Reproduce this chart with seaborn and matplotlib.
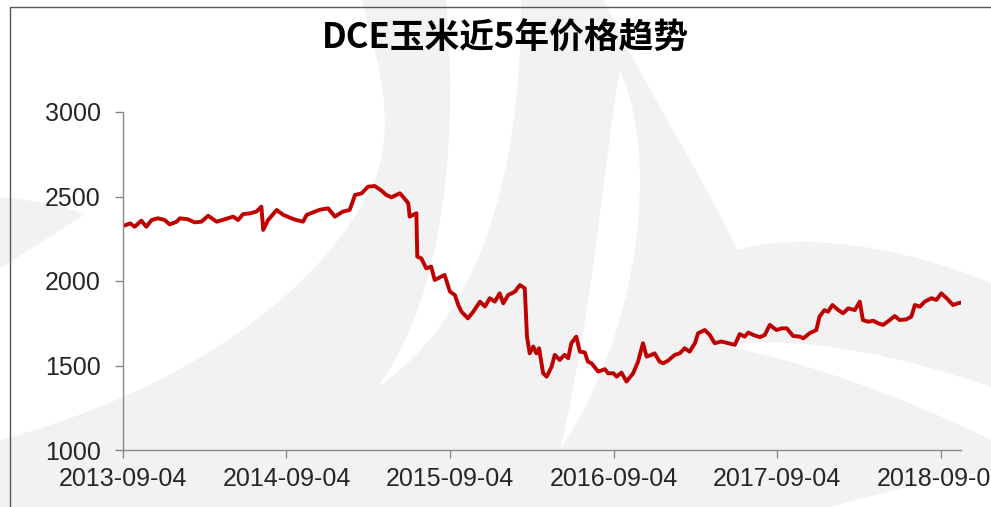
import matplotlib
matplotlib.use('Agg')
import matplotlib.pyplot as plt
from matplotlib.path import Path
from matplotlib.patches import PathPatch
from matplotlib.lines import Line2D
import pandas as pd
import seaborn as sns

# DCE corn price
dates = [
    '2013-09-04', '2013-09-20', '2013-09-30', '2013-10-15', '2013-10-26', '2013-11-07',
    '2013-11-21', '2013-12-06', '2013-12-17', '2014-01-02', '2014-01-09', '2014-01-27',
    '2014-02-11', '2014-02-26', '2014-03-13', '2014-04-01', '2014-04-19', '2014-05-08',
    '2014-05-19', '2014-05-30', '2014-06-14', '2014-06-29', '2014-07-10', '2014-07-14',
    '2014-07-25', '2014-08-13', '2014-08-28', '2014-09-15', '2014-09-26', '2014-10-11',
    '2014-10-19', '2014-11-03', '2014-11-18', '2014-12-06', '2014-12-21', '2015-01-08',
    '2015-01-23', '2015-02-04', '2015-02-19', '2015-03-05', '2015-03-20', '2015-04-04',
    '2015-04-15', '2015-04-26', '2015-05-15', '2015-05-22', '2015-06-03', '2015-06-06',
    '2015-06-21', '2015-06-23', '2015-07-02', '2015-07-13', '2015-07-24', '2015-08-01',
    '2015-08-16', '2015-08-23', '2015-09-04', '2015-09-15', '2015-09-23', '2015-09-30',
    '2015-10-14', '2015-10-26', '2015-11-10', '2015-11-21', '2015-12-02', '2015-12-13',
    '2015-12-24', '2016-01-01', '2016-01-12', '2016-01-27', '2016-02-07', '2016-02-18',
    '2016-02-23', '2016-02-29', '2016-03-08', '2016-03-15', '2016-03-21', '2016-03-30',
    '2016-04-07', '2016-04-18', '2016-04-25', '2016-05-06', '2016-05-17', '2016-05-25',
    '2016-06-01', '2016-06-12', '2016-06-20', '2016-07-01', '2016-07-08', '2016-07-16',
    '2016-07-31', '2016-08-15', '2016-08-22', '2016-09-03', '2016-09-10', '2016-09-21',
    '2016-10-02', '2016-10-17', '2016-10-28', '2016-11-08', '2016-11-16', '2016-11-27',
    '2016-12-04', '2016-12-15', '2016-12-23', '2017-01-03', '2017-01-18', '2017-01-29',
    '2017-02-09', '2017-02-20', '2017-03-04', '2017-03-11', '2017-03-26', '2017-04-06',
    '2017-04-17', '2017-05-02', '2017-05-17', '2017-06-01', '2017-06-12', '2017-06-23',
    '2017-07-01', '2017-07-12', '2017-07-27', '2017-08-07', '2017-08-18', '2017-09-02',
    '2017-09-14', '2017-09-25', '2017-10-09', '2017-10-24', '2017-11-01', '2017-11-15',
    '2017-11-30', '2017-12-07', '2017-12-18', '2017-12-26', '2018-01-05', '2018-01-18',
    '2018-01-29', '2018-02-09', '2018-02-24', '2018-03-07', '2018-03-14', '2018-03-26',
    '2018-04-06', '2018-04-17', '2018-04-28', '2018-05-13', '2018-05-24', '2018-06-04',
    '2018-06-19', '2018-06-30', '2018-07-08', '2018-07-19', '2018-07-30', '2018-08-14',
    '2018-08-25', '2018-09-05', '2018-09-17', '2018-10-01', '2018-10-12', '2018-10-19',
]
prices = [
    2325, 2341, 2321, 2357, 2321, 2361,
    2371, 2361, 2335, 2351, 2371, 2365,
    2347, 2351, 2386, 2351, 2365, 2381,
    2361, 2396, 2400, 2411, 2440, 2302,
    2361, 2420, 2391, 2371, 2361, 2351,
    2391, 2407, 2422, 2430, 2381, 2411,
    2420, 2509, 2519, 2558, 2562, 2535,
    2509, 2495, 2519, 2499, 2460, 2381,
    2401, 2144, 2134, 2075, 2085, 2006,
    2026, 2036, 1937, 1917, 1855, 1818,
    1779, 1818, 1878, 1849, 1898, 1878,
    1927, 1868, 1917, 1937, 1976, 1957,
    1671, 1572, 1612, 1572, 1602, 1454,
    1434, 1493, 1563, 1533, 1563, 1543,
    1632, 1671, 1582, 1577, 1523, 1513,
    1464, 1478, 1454, 1454, 1434, 1458,
    1405, 1454, 1523, 1632, 1553, 1563,
    1572, 1523, 1513, 1529, 1563, 1572,
    1602, 1582, 1632, 1691, 1710, 1681,
    1632, 1642, 1632, 1622, 1686, 1671,
    1695, 1681, 1668, 1681, 1740, 1710,
    1720, 1720, 1675, 1671, 1661, 1691,
    1710, 1789, 1828, 1818, 1858, 1828,
    1809, 1838, 1828, 1878, 1769, 1759,
    1765, 1750, 1740, 1769, 1793, 1769,
    1773, 1789, 1858, 1848, 1878, 1898,
    1888, 1927, 1898, 1858, 1868, 1872,
]
tick_dates = ['2013-09-04', '2014-09-04', '2015-09-04', '2016-09-04', '2017-09-04', '2018-09-04']
y_ticks = [1000, 1500, 2000, 2500, 3000]
title = 'DCE玉米近5年价格趋势'

df = pd.DataFrame({'date': pd.to_datetime(dates), 'price': prices})

sns.set_style('white')
plt.rcParams['font.family'] = ['Liberation Sans', 'DejaVu Sans']

W, H = 991, 507
fig = plt.figure(figsize=(W / 100, H / 100), dpi=100)


def px(x, y):
    return (x / W, 1 - y / H)


def blob(start, segs, color):
    # background watermark shape, given in pixel coords
    verts = [px(*start)]
    codes = [Path.MOVETO]
    for s in segs:
        if len(s) == 1:
            verts.append(px(*s[0]))
            codes.append(Path.LINETO)
        else:
            verts += [px(*p) for p in s]
            codes += [Path.CURVE4] * 3
    verts.append(verts[0])
    codes.append(Path.CLOSEPOLY)
    fig.patches.append(PathPatch(Path(verts, codes), transform=fig.transFigure,
                                 facecolor=color, edgecolor='none', zorder=-2))


grey, white = '#f2f2f2', 'white'
blob((0, 440), [((170, 395), (320, 300), (375, 180)), ((400, 110), (370, 40), (362, 0)),
                ((604, 0),), ((640, 80), (700, 170), (737, 250)),
                ((800, 232), (900, 245), (991, 283)), ((991, 507),), ((0, 507),)], grey)
blob((0, 197), [((30, 200), (60, 205), (85, 214)), ((60, 230), (30, 250), (0, 268))], grey)
blob((377, 387), [((430, 320), (462, 180), (446, 0)), ((521, 0),),
                  ((522, 170), (480, 320), (377, 387))], white)
blob((620, 70), [((605, 150), (595, 300), (560, 450)), ((640, 330), (660, 160), (620, 70))], white)
blob((720, 345), [((800, 335), (900, 355), (991, 387)), ((991, 440),),
                  ((900, 395), (800, 360), (720, 345))], white)
blob((830, 507), [((890, 490), (950, 478), (991, 470)), ((991, 507),)], white)

# frame
fig.add_artist(Line2D([10 / W, 1], [1 - 7 / H, 1 - 7 / H], color='#5a5a5a', lw=1))
fig.add_artist(Line2D([10 / W, 10 / W], [0, 1 - 7 / H], color='#5a5a5a', lw=1))

ax = fig.add_axes([123 / W, 1 - 450 / H, (961 - 123) / W, (450 - 112) / H])
ax.set_facecolor('none')

sns.lineplot(data=df, x='date', y='price', color='#C00000', linewidth=2.8, ax=ax)

ax.set_xlim(df['date'].min(), df['date'].max())
ax.set_ylim(1000, 3000)
ax.set_yticks(y_ticks)
ax.set_xticks(pd.to_datetime(tick_dates))
ax.set_xticklabels(tick_dates)
ax.set_xlabel('')
ax.set_ylabel('')

for side in ['top', 'right']:
    ax.spines[side].set_visible(False)
for side in ['left', 'bottom']:
    ax.spines[side].set_color('#898989')
    ax.spines[side].set_linewidth(1)

ax.tick_params(axis='both', bottom=True, left=True, colors='#898989', labelcolor='#262626',
               labelsize=18, length=6, width=1, direction='out')
ax.tick_params(axis='y', pad=10)
ax.tick_params(axis='x', pad=6)

fig.text(505 / W, 1 - 38 / H, title, ha='center', va='center', fontsize=25,
         fontweight='bold', color='black', family=['Noto Sans CJK SC', 'DejaVu Sans'])

fig.savefig('out.png', dpi=100)
